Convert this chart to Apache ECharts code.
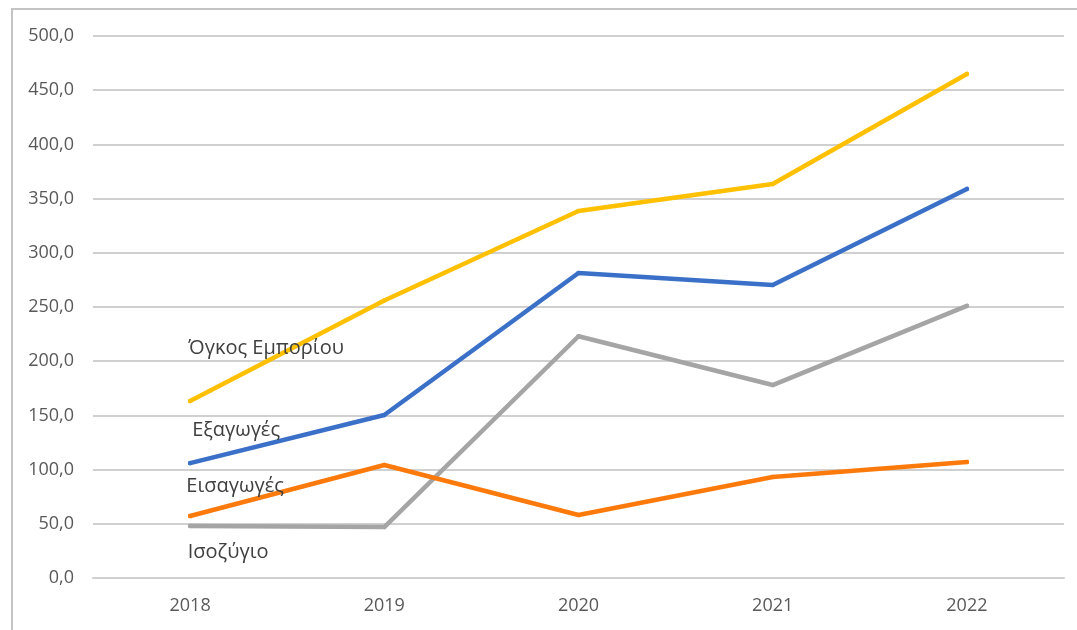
<!DOCTYPE html>
<html>
<head>
<meta charset="utf-8">
<script src="https://cdn.jsdelivr.net/npm/echarts@6/dist/echarts.min.js"></script>
<style>
	html, body { margin: 0; padding: 0; background: #fff; }
	#chart { width: 1077px; height: 630px; }
</style>
</head>
<body>
<div id="chart"></div>
<script>
// data
var years = ['2018', '2019', '2020', '2021', '2022']
var volume = [163.3, 256.0, 338.6, 363.5, 465.0]   // Όγκος Εμπορίου
var exportsVals = [106.0, 150.4, 281.4, 270.3, 358.9] // Εξαγωγές
var balance = [48.0, 47.0, 223.0, 178.0, 251.0]    // Ισοζύγιο
var importsVals = [57.2, 104.2, 58.1, 93.2, 107.0] // Εισαγωγές

var names = ['Όγκος Εμπορίου', 'Εξαγωγές', 'Ισοζύγιο', 'Εισαγωγές']
var colors = ['#FFC000', '#3A70C8', '#A5A5A5', '#FC7A0C']

var textColor = '#595959'
var fontFamily = '"Open Sans", sans-serif'

var chart = echarts.init(document.getElementById('chart'))

// only the first point gets a label, like the original
makeSeries = (name, values, color, dx, dy) => {
	var data = values.map(function (v, i) {
		if (i !== 0) return v
		return {
			value: v,
			label: {
				show: true,
				position: 'inside',
				formatter: name,
				color: '#404040',
				fontSize: 20,
				fontFamily: fontFamily,
			},
		}
	})
	return {
		name: name,
		type: 'line',
		data: data,
		symbol: 'circle',
		symbolSize: 4.5,
		showSymbol: true,
		itemStyle: { color: color },
		lineStyle: { color: color, width: 4.5, cap: 'round', join: 'round' },
		labelLayout: { dx: dx, dy: dy },
		emphasis: { disabled: true },
		animation: false,
	}
}

var option = {
	animation: false,
	grid: { left: 93, right: 13, top: 36, bottom: 52 },
	xAxis: {
		type: 'category',
		data: years,
		boundaryGap: true,
		axisLine: { lineStyle: { color: '#D0D0D0', width: 2 } },
		axisTick: { show: false },
		axisLabel: { color: textColor, fontSize: 18, fontFamily: fontFamily, margin: 19 },
	},
	yAxis: {
		type: 'value',
		min: 0,
		max: 500,
		interval: 50,
		axisLine: { show: false },
		axisTick: { show: false },
		axisLabel: {
			color: textColor,
			fontSize: 18,
			fontFamily: fontFamily,
			margin: 19,
			formatter: function (v) {
				return v.toFixed(1).replace('.', ',')
			},
		},
		splitLine: { lineStyle: { color: '#D0D0D0', width: 2 } },
	},
	graphic: [
		{
			type: 'rect',
			shape: { x: 12, y: 9, width: 1200, height: 800 },
			style: { fill: 'none', stroke: '#C4C4C4', lineWidth: 2 },
			silent: true,
		},
	],
	series: [
		makeSeries(names[0], volume, colors[0], 76, -53),
		makeSeries(names[1], exportsVals, colors[1], 46, -33),
		makeSeries(names[2], balance, colors[2], 38, 26),
		makeSeries(names[3], importsVals, colors[3], 45, -30),
	],
}

chart.setOption(option)
</script>
</body>
</html>
